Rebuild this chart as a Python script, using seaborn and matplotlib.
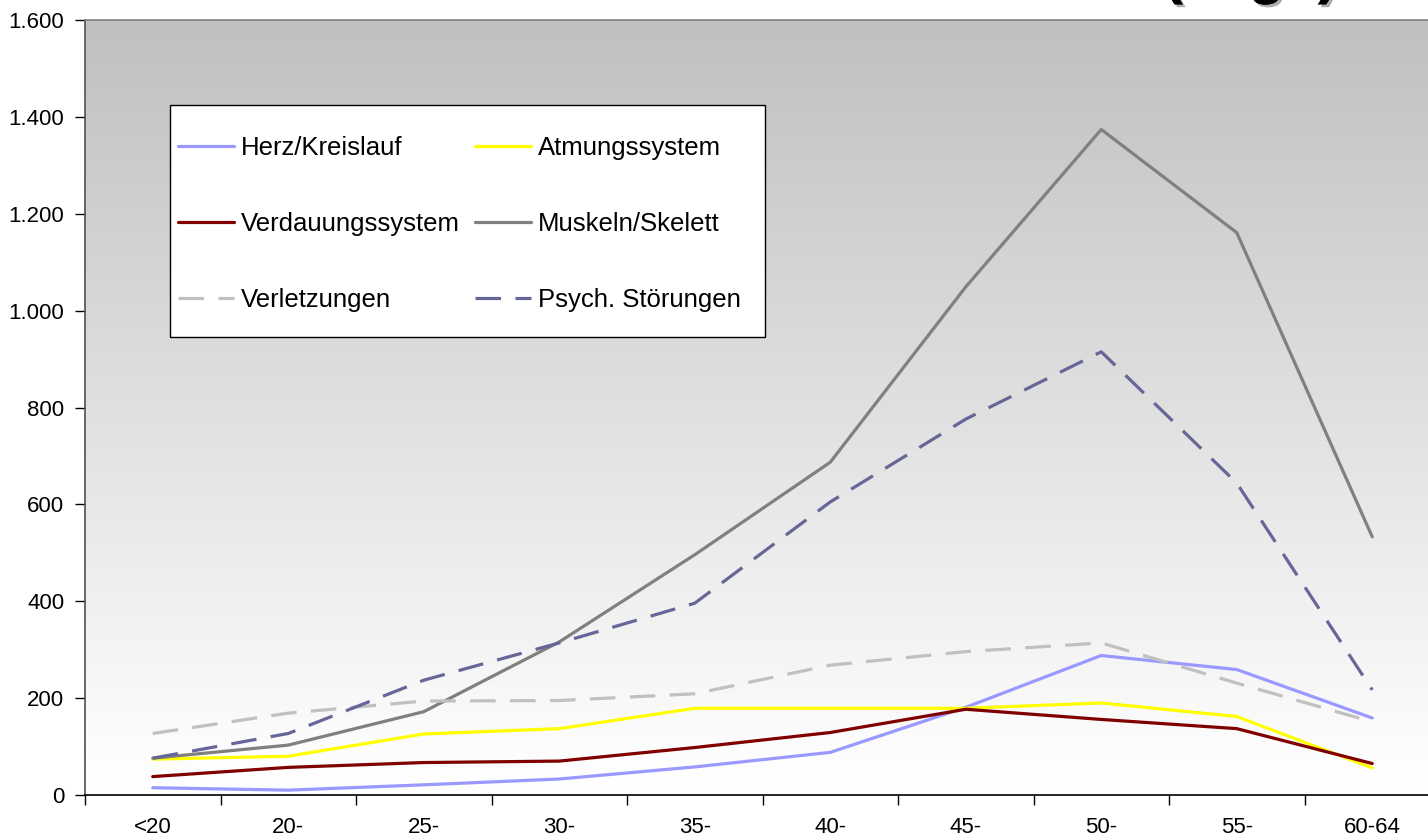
import numpy as np
import pandas as pd
import matplotlib
matplotlib.use("Agg")
import matplotlib.pyplot as plt
import matplotlib.patheffects as pe
from matplotlib.colors import LinearSegmentedColormap
from matplotlib.patches import Rectangle
from matplotlib.ticker import FixedLocator, FuncFormatter
import seaborn as sns

# Altersgruppen
age_groups = ["<20", "20-", "25-", "30-", "35-", "40-", "45-", "50-", "55-", "60-64"]

# AU-Tage je Diagnosegruppe
herz_kreislauf = [15, 10, 21, 33, 58, 88, 181, 288, 259, 159]
atmungssystem = [74, 80, 126, 137, 179, 179, 179, 190, 162, 56]
verdauungssystem = [38, 57, 67, 70, 98, 129, 177, 156, 137, 65]
muskeln_skelett = [76, 103, 172, 316, 496, 687, 1049, 1374, 1161, 533]
verletzungen = [127, 169, 194, 195, 209, 268, 296, 314, 231, 151]
psych_stoerungen = [76, 127, 237, 314, 396, 605, 776, 915, 644, 217]

series_names = ["Herz/Kreislauf", "Atmungssystem", "Verdauungssystem",
                "Muskeln/Skelett", "Verletzungen", "Psych. Störungen"]
series_values = [herz_kreislauf, atmungssystem, verdauungssystem,
                 muskeln_skelett, verletzungen, psych_stoerungen]
series_colors = ["#9999ff", "#ffff00", "#800000", "#808080", "#c0c0c0", "#666699"]
series_dashes = ["", "", "", "", (8, 4.5), (8, 4.5)]

y_ticks = [0, 200, 400, 600, 800, 1000, 1200, 1400, 1600]

rows = []
for name, vals in zip(series_names, series_values):
    for i, v in enumerate(vals):
        rows.append({"pos": i, "Diagnose": name, "Tage": v})
df = pd.DataFrame(rows)

sns.set_theme(style="white")
plt.rcParams["font.family"] = ["Liberation Sans", "DejaVu Sans"]

fig = plt.figure(figsize=(14.28, 8.36), dpi=100)
fig.patch.set_facecolor("white")
ax = fig.add_axes([85 / 1428, 41 / 836, 1355 / 1428, 775 / 836])

# grauer Verlauf im Zeichenbereich
grad = np.linspace(0, 1, 256).reshape(-1, 1)
cmap = LinearSegmentedColormap.from_list(
    "bg", [(0.0, "#ffffff"), (0.05, "#fdfdfd"), (1.0, "#c0c0c0")])
ax.imshow(grad, extent=(-0.5, len(age_groups) - 0.5, 0, 1600), aspect="auto",
          origin="lower", cmap=cmap, zorder=0, interpolation="bicubic")

sns.lineplot(data=df, x="pos", y="Tage", hue="Diagnose", style="Diagnose",
             hue_order=series_names, style_order=series_names,
             palette=dict(zip(series_names, series_colors)),
             dashes=dict(zip(series_names, series_dashes)),
             linewidth=2.3, sort=False, ax=ax, zorder=3)

ax.set_xlim(-0.5, len(age_groups) - 0.5)
ax.set_ylim(0, 1600)
ax.set_xlabel("")
ax.set_ylabel("")

ax.xaxis.set_major_locator(FixedLocator(range(len(age_groups))))
ax.set_xticklabels(age_groups)
ax.xaxis.set_minor_locator(FixedLocator(np.arange(-0.5, len(age_groups), 1.0)))
ax.tick_params(axis="x", which="major", length=0, pad=16, labelsize=16, colors="black")
ax.tick_params(axis="x", which="minor", length=7, width=1, direction="out",
               color="black", bottom=True)
ax.set_yticks(y_ticks)
ax.yaxis.set_major_formatter(FuncFormatter(lambda v, p: f"{v:,.0f}".replace(",", ".")))
ax.tick_params(axis="y", length=7, width=1, direction="out", pad=8,
               labelsize=16, colors="black", left=True)
for lab in ax.get_xticklabels() + ax.get_yticklabels():
    lab.set_color("black")

for side in ["left", "bottom", "top", "right"]:
    ax.spines[side].set_visible(True)
ax.spines["left"].set_color("#505050")
ax.spines["bottom"].set_color("black")
ax.spines["top"].set_color("#808080")
ax.spines["right"].set_color("#808080")
for side in ["left", "bottom", "top"]:
    ax.spines[side].set_linewidth(1.2)

# Legende mit weißem Kasten
handles, labels = ax.get_legend_handles_labels()
hmap = dict(zip(labels, handles))
leg_order = ["Herz/Kreislauf", "Verdauungssystem", "Verletzungen",
             "Atmungssystem", "Muskeln/Skelett", "Psych. Störungen"]
ax.get_legend().remove()

x0 = (170 - 85) / 1355
x1 = (765 - 85) / 1355
y1 = (795 - 105) / 775
y0 = (795 - 337) / 775
box = Rectangle((x0, y0), x1 - x0, y1 - y0, transform=ax.transAxes,
                facecolor="white", edgecolor="black", linewidth=1.0, zorder=5)
ax.add_patch(box)
leg = ax.legend([hmap[l] for l in leg_order], leg_order, ncol=2,
                loc="upper left", bbox_to_anchor=(x0 + 8 / 1355, y1 - 31 / 775),
                frameon=False, fontsize=18.5, handlelength=2.18, handletextpad=0.27,
                columnspacing=0.58, labelspacing=2.02, borderpad=0, borderaxespad=0)
leg.set_zorder(6)
for h in leg.get_lines():
    h.set_linewidth(2.3)
for t in leg.get_texts():
    t.set_color("black")

# Titelrest am oberen Rand
fig.text(1163 / 1428, 1 + 8 / 836, "(Tage)", fontsize=43, fontweight="bold",
         ha="left", va="baseline", color="black",
         path_effects=[pe.withSimplePatchShadow(offset=(2, -2), shadow_rgbFace="#999999", alpha=0.8),
                       pe.Normal()])

fig.savefig("out.png", dpi=100, facecolor="white")
